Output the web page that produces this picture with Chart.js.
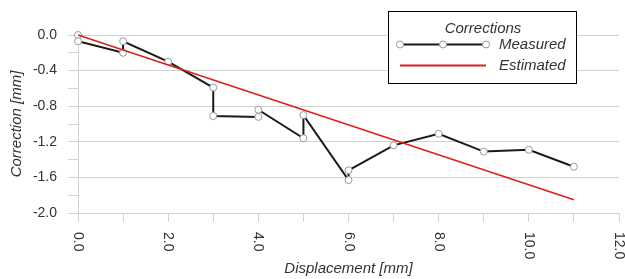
<!DOCTYPE html>
<html>
<head>
<meta charset="utf-8">
<script src="https://cdn.jsdelivr.net/npm/chart.js@4"></script>
<style>
  html, body { margin: 0; padding: 0; background: #fff; }
  #wrap { width: 625px; height: 279px; position: relative; }
</style>
</head>
<body>
<div id="wrap"><canvas id="c" width="625" height="279"></canvas></div>
<script>
// ---- data ----
const measuredX = [0, 0, 1, 1, 2, 3, 3, 4, 4, 5, 5, 6, 6, 7, 8, 9, 10, 11];
const measuredY = [0.0, -0.07, -0.20, -0.07, -0.30, -0.59, -0.91, -0.92, -0.84, -1.16, -0.90, -1.63, -1.52, -1.24, -1.11, -1.31, -1.29, -1.48];
const estimatedX = [0, 11];
const estimatedY = [0.0, -1.85];
const xTickLabels = ["0.0", "2.0", "4.0", "6.0", "8.0", "10.0", "12.0"];
const xTickValues = [0, 2, 4, 6, 8, 10, 12];
const legendTitle = "Corrections";
const seriesNames = ["Measured", "Estimated"];
const xTitle = "Displacement [mm]";
const yTitle = "Correction [mm]";

const FONT = "'Liberation Sans', Arial, sans-serif";
const TXT = "#333333";
const GRID = "#d2d2d2";

function pts(xs, ys) { return xs.map((x, i) => ({ x: x, y: ys[i] })); }

const xLabelsPlugin = {
  id: 'xLabels',
  afterDraw(chart) {
    const ctx = chart.ctx;
    const sx = chart.scales.x;
    ctx.save();
    ctx.fillStyle = TXT;
    ctx.font = "14px " + FONT;
    ctx.textAlign = 'left';
    ctx.textBaseline = 'middle';
    xTickValues.forEach((v, i) => {
      const px = sx.getPixelForValue(v);
      ctx.save();
      ctx.translate(px, 232);
      ctx.rotate(Math.PI / 2);
      ctx.fillText(xTickLabels[i], 0, 0);
      ctx.restore();
    });
    ctx.restore();
  }
};

const legendPlugin = {
  id: 'boxLegend',
  afterDraw(chart) {
    const ctx = chart.ctx;
    ctx.save();
    ctx.fillStyle = '#ffffff';
    ctx.fillRect(388, 11, 189, 72);
    ctx.strokeStyle = '#000000';
    ctx.lineWidth = 1;
    ctx.strokeRect(388.5, 11.5, 188, 72);
    ctx.fillStyle = TXT;
    ctx.font = "italic 15px " + FONT;
    ctx.textAlign = 'center';
    ctx.textBaseline = 'alphabetic';
    ctx.fillText(legendTitle, 483, 33);
    // Measured sample
    ctx.strokeStyle = '#1a1a1a';
    ctx.lineWidth = 2;
    ctx.beginPath(); ctx.moveTo(400, 44.5); ctx.lineTo(486, 44.5); ctx.stroke();
    [400, 443, 486].forEach(mx => {
      ctx.beginPath(); ctx.arc(mx, 44.5, 3.5, 0, Math.PI * 2);
      ctx.fillStyle = '#ffffff'; ctx.fill();
      ctx.lineWidth = 1; ctx.strokeStyle = '#9a9a9a'; ctx.stroke();
    });
    // Estimated sample
    ctx.strokeStyle = '#d8201c';
    ctx.lineWidth = 2;
    ctx.beginPath(); ctx.moveTo(400, 65.5); ctx.lineTo(486, 65.5); ctx.stroke();
    ctx.fillStyle = TXT;
    ctx.textAlign = 'left';
    ctx.textBaseline = 'middle';
    ctx.fillText(seriesNames[0], 499, 45);
    ctx.fillText(seriesNames[1], 499, 66);
    ctx.restore();
  }
};

new Chart(document.getElementById('c'), {
  type: 'line',
  data: {
    datasets: [
      {
        label: seriesNames[0],
        data: pts(measuredX, measuredY),
        borderColor: '#1a1a1a',
        borderWidth: 2,
        pointRadius: 3.5,
        pointBackgroundColor: '#ffffff',
        pointBorderColor: '#9a9a9a',
        pointBorderWidth: 1,
        tension: 0,
        clip: false,
        order: 2
      },
      {
        label: seriesNames[1],
        data: pts(estimatedX, estimatedY),
        borderColor: '#d8201c',
        borderWidth: 1.6,
        pointRadius: 0,
        tension: 0,
        clip: false,
        order: 1
      }
    ]
  },
  options: {
    responsive: false,
    animation: false,
    devicePixelRatio: 1,
    layout: { padding: { top: 35, right: 6, left: 0, bottom: 0 } },
    plugins: { legend: { display: false }, tooltip: { enabled: false } },
    scales: {
      x: {
        type: 'linear',
        min: 0, max: 12,
        afterFit(s) { s.height = 66; },
        ticks: { stepSize: 1, display: false, autoSkip: false },
        grid: { drawOnChartArea: false, drawTicks: true, tickLength: 9, tickColor: GRID, tickWidth: 1 },
        border: { display: true, color: GRID, width: 1 },
        title: {
          display: true, text: xTitle, color: TXT,
          font: { family: FONT, size: 15, style: 'italic' },
          padding: { top: 0, bottom: 1 }
        }
      },
      y: {
        type: 'linear',
        min: -2, max: 0,
        afterFit(s) { s.width = 78; },
        ticks: {
          stepSize: 0.2, autoSkip: false, color: TXT, padding: 11,
          font: { family: FONT, size: 14 },
          callback(v) {
            const k = Math.round(v * 10);
            if (k % 4 !== 0) return '';
            if (k === 0) return '0.0';
            return (k / 10).toFixed(1);
          }
        },
        grid: {
          color(c) {
            if (!c.tick) return 'transparent';
            const k = Math.round(c.tick.value * 10);
            return (k % 4 === 0) ? GRID : 'transparent';
          },
          tickColor: GRID, tickLength: 10, lineWidth: 1
        },
        border: { display: true, color: GRID, width: 1 },
        title: {
          display: true, text: yTitle, color: TXT,
          font: { family: FONT, size: 15, style: 'italic' },
          padding: { top: 8, bottom: 0 }
        }
      }
    }
  },
  plugins: [xLabelsPlugin, legendPlugin]
});
</script>
</body>
</html>
